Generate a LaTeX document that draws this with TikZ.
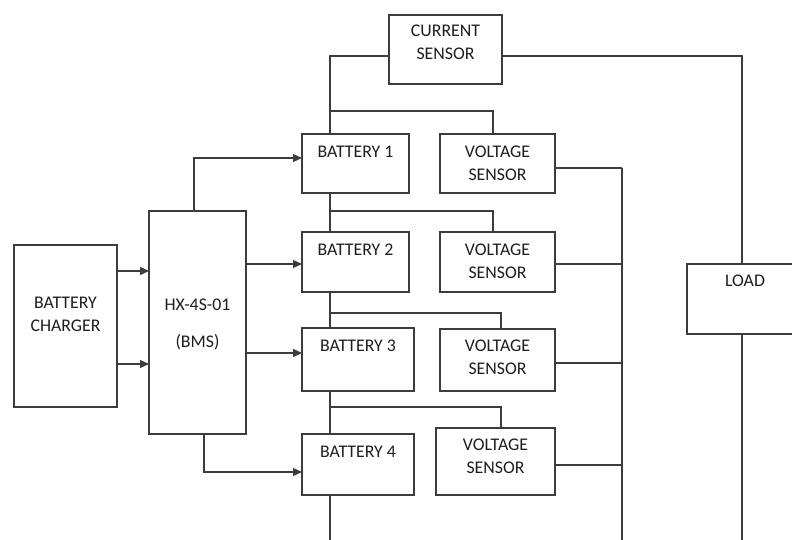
\documentclass[tikz,border=0pt]{standalone}
\usepackage{fontspec}
\setmainfont{Carlito}
\usetikzlibrary{arrows.meta,calc}
\definecolor{linec}{HTML}{3C3C3C}
\definecolor{textc}{HTML}{1E1E1E}
\tikzset{
  box/.style={draw=linec, line width=1.3pt, inner sep=0pt, outer sep=0pt, anchor=north west, fill=white},
  txt/.style={text=textc, font=\fontsize{17.8}{23}\selectfont, align=center, inner sep=0pt, anchor=center},
  wire/.style={draw=linec, line width=1.3pt},
  arr/.style={wire, -{Triangle[length=9pt,width=8pt]}}
}
\begin{document}
\begin{tikzpicture}[x=1pt,y=-1pt]
\useasboundingbox (0,0) rectangle (792,540);
\clip (0,0) rectangle (792,540);
\fill[white] (0,0) rectangle (792,540);

% boxes
\node[box, minimum width=113pt, minimum height=69pt,
  label={[txt,yshift=-27.5pt]north:CURRENT\\SENSOR}] (cs) at (389,15) {};
\node[box, minimum width=107pt, minimum height=59pt,
  label={[txt,yshift=-18pt]north:BATTERY 1}] (b1) at (302,134) {};
\node[box, minimum width=115pt, minimum height=59pt,
  label={[txt,yshift=-29.5pt]north:VOLTAGE\\SENSOR}] (v1) at (440,134) {};
\node[box, minimum width=107pt, minimum height=60pt,
  label={[txt,yshift=-18pt]north:BATTERY 2}] (b2) at (302,232) {};
\node[box, minimum width=115pt, minimum height=60pt,
  label={[txt,yshift=-29pt]north:VOLTAGE\\SENSOR}] (v2) at (440,232) {};
\node[box, minimum width=112pt, minimum height=63pt,
  label={[txt,yshift=-18pt]north:BATTERY 3}] (b3) at (302,328) {};
\node[box, minimum width=115pt, minimum height=62pt,
  label={[txt,yshift=-28.5pt]north:VOLTAGE\\SENSOR}] (v3) at (440,329) {};
\node[box, minimum width=112pt, minimum height=61pt,
  label={[txt,yshift=-18pt]north:BATTERY 4}] (b4) at (302,434) {};
\node[box, minimum width=119pt, minimum height=67pt,
  label={[txt,yshift=-28.5pt]north:VOLTAGE\\SENSOR}] (v4) at (436,428) {};
\node[box, minimum width=103pt, minimum height=162pt,
  label={[txt,yshift=-69pt]north:BATTERY\\CHARGER}] (ch) at (14,245) {};
\node[box, minimum width=97pt, minimum height=223pt,
  label={[txt,yshift=-113.5pt,font=\fontsize{17.8}{37}\selectfont]north:HX-4S-01\\(BMS)}] (bms) at (149,211) {};
\node[box, minimum width=116pt, minimum height=70pt,
  label={[txt,yshift=-17pt]north:LOAD}] (load) at (687,264) {};

% coordinates
\coordinate (j0) at (330,56);
\coordinate (t1) at (330,111);
\coordinate (t2) at (330,211);
\coordinate (t3) at (330,313);
\coordinate (t4) at (330,407);
\coordinate (e1) at (330,540);
\coordinate (r0) at (742,56);
\coordinate (r1) at (742,540);
\coordinate (bt) at (622,168);
\coordinate (bb) at (622,540);

% current sensor to battery string and load
\draw[wire] ([yshift=-6.5pt]cs.west) -- (j0) -- (j0 |- b1.north);
\draw[wire] (t1) -| ([xshift=-4.5pt]v1.north);
\draw[wire] ([yshift=-6.5pt]cs.east) -- (r0) -- (r0 |- load.north);
\draw[wire] (r1 |- load.south) -- (r1);

% battery string and voltage sensor taps
\draw[wire] (b1.south -| t2) -- (b2.north -| t2);
\draw[wire] (t2) -| ([xshift=-4.5pt]v2.north);
\draw[wire] (b2.south -| t3) -- (b3.north -| t3);
\draw[wire] (t3) -| ([xshift=3.5pt]v3.north);
\draw[wire] (b3.south -| t4) -- (b4.north -| t4);
\draw[wire] (t4) -| ([xshift=5.5pt]v4.north);
\draw[wire] (b4.south -| e1) -- (e1);

% voltage sensor bus
\draw[wire] (bt) -- (bb);
\draw[wire] (v1.east |- bt) -- (bt);
\draw[wire] ([yshift=-2pt]v2.east) -- ([yshift=-2pt]v2.east -| bt);
\draw[wire] ([yshift=-3pt]v3.east) -- ([yshift=-3pt]v3.east -| bt);
\draw[wire] ([yshift=-3.5pt]v4.east) -- ([yshift=-3.5pt]v4.east -| bt);

% charger to BMS
\draw[arr] ([yshift=55pt]ch.east) -- ([yshift=55pt]ch.east -| bms.west);
\draw[arr] ([yshift=-38pt]ch.east) -- ([yshift=-38pt]ch.east -| bms.west);

% BMS to batteries
\draw[arr] ([xshift=-3.5pt]bms.north) |- ([yshift=5.5pt]b1.west);
\draw[arr] ([yshift=-2pt]b2.west -| bms.east) -- ([yshift=-2pt]b2.west);
\draw[arr] ([yshift=6.5pt]b3.west -| bms.east) -- ([yshift=6.5pt]b3.west);
\draw[arr] ([xshift=6.5pt]bms.south) |- ([yshift=-7.5pt]b4.west);
\end{tikzpicture}
\end{document}
